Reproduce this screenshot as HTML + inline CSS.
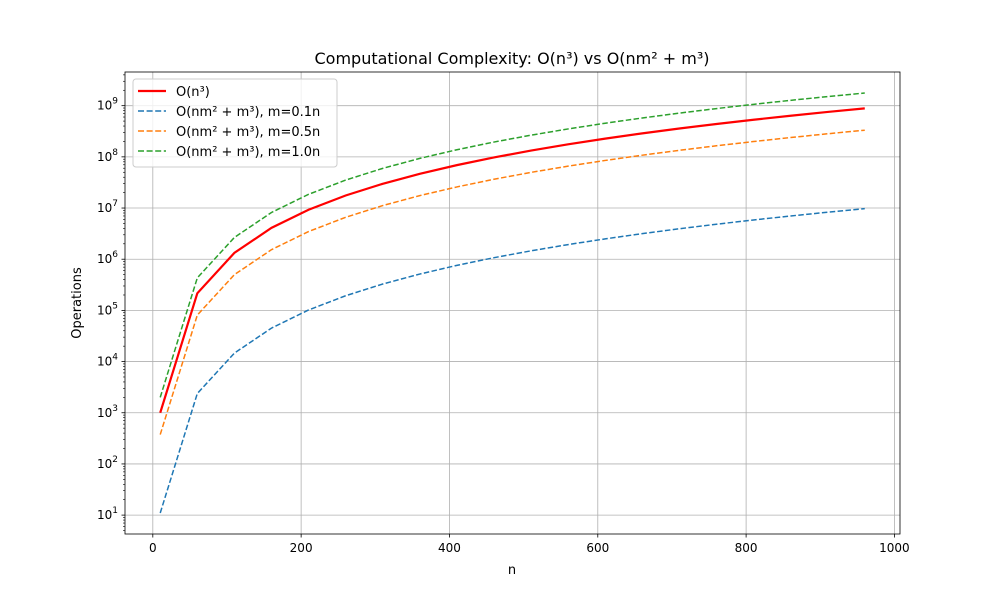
<!DOCTYPE html>
<html><head><meta charset="utf-8"><style>
body{margin:0;background:#fff}
svg{font-family:"DejaVu Sans","Liberation Sans",sans-serif}
</style></head><body>
<svg id="chart" width="1000" height="600" xmlns="http://www.w3.org/2000/svg">
<rect width="1000" height="600" fill="#fff"/>
<g id="grid"></g>
<g id="series"></g>
<rect x="125" y="72" width="775" height="462" fill="none" stroke="#000" stroke-width="0.8"/>
<g id="axes"></g>
<text x="512" y="64" text-anchor="middle" font-size="16">Computational Complexity: O(n³) vs O(nm² + m³)</text>
<text x="512" y="574" text-anchor="middle" font-size="13">n</text>
<text transform="translate(81,303) rotate(-90)" text-anchor="middle" font-size="13">Operations</text>
<g>
<rect x="133" y="79" width="204" height="88" rx="3" fill="#fff" fill-opacity="0.8" stroke="#ccc"/>
<line x1="138" y1="91" x2="166" y2="91" stroke="#ff0000" stroke-width="2.2"/>
<text x="176" y="96" font-size="13">O(n³)</text>
<line x1="138" y1="111" x2="166" y2="111" stroke="#1f77b4" stroke-width="1.6" stroke-dasharray="6,2.6"/>
<text x="176" y="116" font-size="13">O(nm² + m³), m=0.1n</text>
<line x1="138" y1="131" x2="166" y2="131" stroke="#ff7f0e" stroke-width="1.6" stroke-dasharray="6,2.6"/>
<text x="176" y="136" font-size="13">O(nm² + m³), m=0.5n</text>
<line x1="138" y1="151" x2="166" y2="151" stroke="#2ca02c" stroke-width="1.6" stroke-dasharray="6,2.6"/>
<text x="176" y="156" font-size="13">O(nm² + m³), m=1.0n</text>
</g>
</svg>
<script>
const nValues=[10,60,110,160,210,260,310,360,410,460,510,560,610,660,710,760,810,860,910,960];
const cubic=[1000,216000,1331000,4096000,9261000,17576000,29791000,46656000,68921000,97336000,132651000,175616000,226981000,287496000,357911000,438976000,531441000,636056000,753571000,884736000];
const m01=[11,2376,14641,45056,101871,193336,327701,513216,758131,1070696,1459161,1931776,2496791,3162456,3937021,4828736,5845851,6996616,8289281,9732096];
const m05=[375,81000,499125,1536000,3472875,6591000,11171625,17496000,25845375,36501000,49744125,65856000,85117875,107811000,134216625,164616000,199290375,238521000,282589125,331776000];
const m10=[2000,432000,2662000,8192000,18522000,35152000,59582000,93312000,137842000,194672000,265302000,351232000,453962000,574992000,715822000,877952000,1062882000,1272112000,1507142000,1769472000];
const xTicks=[0,200,400,600,800,1000];
const yExps=[1,2,3,4,5,6,7,8,9];
const NS="http://www.w3.org/2000/svg";
const L=125,R=900,T=72,B=534;
const xMin=-37.5,xMax=1007.5,yMin=0.631,yMax=9.658;
const X=v=>L+(v-xMin)/(xMax-xMin)*(R-L);
const Y=v=>B-(Math.log10(v)-yMin)/(yMax-yMin)*(B-T);
function mk(tag,attrs,parent){const e=document.createElementNS(NS,tag);for(const k in attrs)e.setAttribute(k,attrs[k]);parent.appendChild(e);return e;}
const grid=document.getElementById('grid'),axes=document.getElementById('axes'),series=document.getElementById('series');
xTicks.forEach(t=>{const x=X(t);
 const g=mk('line',{x1:x,x2:x,y1:T,y2:B,stroke:'#b0b0b0','stroke-width':0.8},grid);
 
 mk('line',{x1:x,x2:x,y1:B,y2:B+3.5,stroke:'#000','stroke-width':0.8},axes);
 const tx=mk('text',{x:x,y:B+18,'text-anchor':'middle','font-size':12},axes);tx.textContent=t;
 
});
yExps.forEach(e=>{const y=Y(Math.pow(10,e));
 const g=mk('line',{x1:L,x2:R,y1:y,y2:y,stroke:'#b0b0b0','stroke-width':0.8},grid);
 
 mk('line',{x1:L-3.5,x2:L,y1:y,y2:y,stroke:'#000','stroke-width':0.8},axes);
 const tx=mk('text',{x:L-7,y:y+4,'text-anchor':'end','font-size':12},axes);
 
 tx.textContent='10';const s=mk('tspan',{dy:-6,'font-size':9},tx);s.textContent=e;
});
for(let e=0;e<=9;e++)for(let k=2;k<=9;k++){const v=k*Math.pow(10,e);const lv=Math.log10(v);if(lv<yMin||lv>yMax)continue;const y=Y(v);
 mk('line',{x1:L-2,x2:L,y1:y,y2:y,stroke:'#000','stroke-width':0.6},axes);}
function line(vals,color,w,dash,name){const p=mk('polyline',{points:nValues.map((n,i)=>X(n)+','+Y(vals[i])).join(' '),fill:'none',stroke:color,'stroke-width':w},series);
 if(dash)p.setAttribute('stroke-dasharray',dash);
 }
line(m01,'#1f77b4',1.5,'5.5,2.4','series-m-0.1n');
line(m05,'#ff7f0e',1.5,'5.5,2.4','series-m-0.5n');
line(m10,'#2ca02c',1.5,'5.5,2.4','series-m-1.0n');
line(cubic,'#ff0000',2.2,null,'series-n-cubed');
</script>
</body></html>
